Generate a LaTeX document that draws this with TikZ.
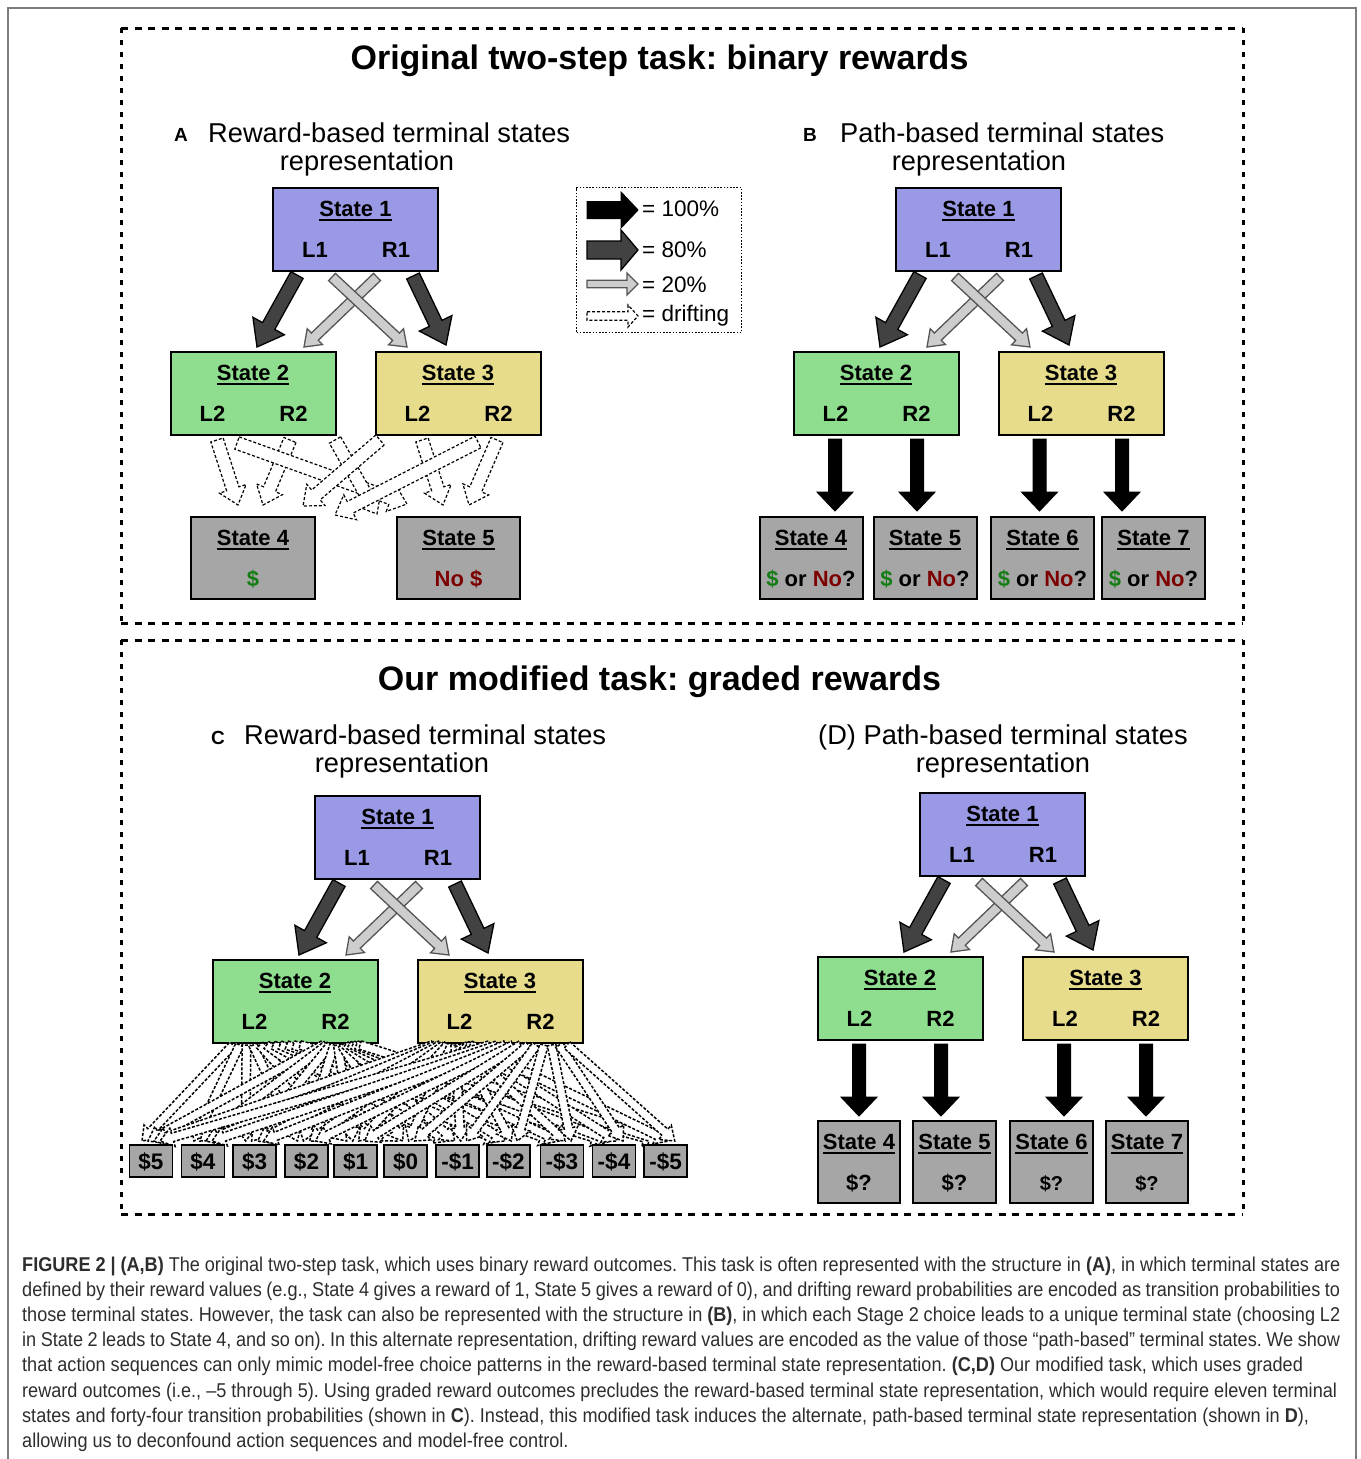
\documentclass[tikz,border=0pt]{standalone}
\usepackage{fontspec}
\setmainfont{Liberation Sans}
\newfontfamily\capfont[FakeStretch=0.905]{Liberation Sans}
\usetikzlibrary{calc}
\frenchspacing

\definecolor{purp}{RGB}{153,153,230}
\definecolor{grn}{RGB}{143,222,143}
\definecolor{yel}{RGB}{230,220,140}
\definecolor{term}{RGB}{166,166,166}
\definecolor{dk}{RGB}{66,66,66}
\definecolor{lt}{RGB}{205,205,205}
\definecolor{ltedge}{RGB}{85,85,85}
\definecolor{money}{RGB}{20,125,20}
\definecolor{nomoney}{RGB}{125,0,0}
\definecolor{captext}{RGB}{45,45,45}
\definecolor{framegray}{RGB}{125,125,125}

\newcommand\fs[1]{\fontsize{#1}{#1}\selectfont}
% bold title with a heavy underline
\newcommand\ulined[1]{\setbox0\hbox{#1}\rlap{\rule[-4.7pt]{\wd0}{1.8pt}}\box0}
% caption line set to the full measure
\newcommand\fullline[1]{\makebox[1318pt][s]{#1}}

% block arrow: style, name, tail, tip, half shaft, half head, head length
\newcommand\barrow[7]{%
  \coordinate (#2-s) at (#3);
  \coordinate (#2-e) at (#4);
  \coordinate (#2-h) at ($(#2-e)!#7pt!(#2-s)$);
  \path[#1] ($(#2-s)!#5pt!90:(#2-e)$) -- ($(#2-h)!#5pt!-90:(#2-s)$)
    -- ($(#2-h)!#6pt!-90:(#2-s)$) -- (#2-e) -- ($(#2-h)!#6pt!90:(#2-s)$)
    -- ($(#2-h)!#5pt!90:(#2-s)$) -- ($(#2-s)!#5pt!-90:(#2-e)$) -- cycle;
}

% choice state: name, x centre, y top, fill, title, left, right
\newcommand\choicebox[7]{%
  \node[sbox, fill=#4, anchor=north] (#1) at (#2,#3) {};
  \node[stxt] (#1-t) at ([yshift=-29pt]#1.north) {\ulined{#5}};
  \node[stxt] (#1-l) at ([xshift=-40.5pt,yshift=-70pt]#1.north) {#6};
  \node[stxt] (#1-r) at ([xshift=40.5pt,yshift=-70pt]#1.north) {#7};
}
% terminal state: name, x centre, y top, width, title, value
\newcommand\termbox[6]{%
  \node[tbox, minimum width=#4pt, anchor=north] (#1) at (#2,#3) {};
  \node[stxt] (#1-t) at ([yshift=-29pt]#1.north) {\ulined{#5}};
  \node[stxt] (#1-v) at ([yshift=-70pt]#1.north) {#6};
}
\newcommand\win{\textcolor{money}{\$}}
\newcommand\lose{\textcolor{nomoney}{No}}

\tikzset{
  sbox/.style={draw=black, line width=2pt, minimum width=165pt, minimum height=83pt, inner sep=0pt},
  tbox/.style={draw=black, line width=2pt, fill=term, minimum height=82pt, inner sep=0pt},
  cbox/.style={draw=black, line width=1.6pt, fill=term, minimum width=43pt, minimum height=32pt, inner sep=0pt},
  ctxt/.style={anchor=base, inner sep=0pt, font=\bfseries\fs{22.5}},
  stxt/.style={anchor=base, inner sep=0pt, font=\bfseries\fs{22}},
  title/.style={anchor=base, inner sep=0pt, font=\bfseries\fs{34}},
  hdr/.style={anchor=base west, inner sep=0pt, font=\fs{27.25}},
  hdrc/.style={anchor=base, inner sep=0pt, font=\fs{27.25}},
  tag/.style={anchor=base, inner sep=0pt, font=\bfseries\fs{19}},
  legtxt/.style={anchor=west, inner sep=0pt, font=\fs{22.5}},
  capline/.style={anchor=base west, inner sep=0pt, text=captext, font=\capfont\fs{20}},
  full/.style={fill=black, draw=black, line width=1pt},
  most/.style={fill=dk, draw=black, line width=1.3pt, line join=miter},
  rare/.style={fill=lt, draw=ltedge, line width=1.3pt},
  drift/.style={fill=white, draw=black, line width=1.2pt, dash pattern=on 3pt off 2pt},
  drifts/.style={fill=white, draw=black, line width=1.5pt, dash pattern=on 3pt off 1.7pt},
  hedge/.style={line width=3pt, dash pattern=on 7pt off 6.5pt},
  vedge/.style={line width=3pt, dash pattern=on 4.5pt off 7.5pt},
}

\begin{document}
\begin{tikzpicture}[x=1pt, y=-1pt]
\useasboundingbox (0,0) rectangle (1360,1459);

% outer figure frame
\draw[framegray, line width=1.5pt] (8,1459) -- (8,8) -- (1356,8) -- (1356,1459);

% dashed panel frames
\draw[hedge] (121,28) -- (1243,28);
\draw[hedge] (121,623) -- (1243,623);
\draw[vedge] (121,28) -- (121,623);
\draw[vedge] (1243,28) -- (1243,623);
\draw[hedge] (121,640) -- (1243,640);
\draw[hedge] (121,1214) -- (1243,1214);
\draw[vedge] (121,640) -- (121,1214);
\draw[vedge] (1243,640) -- (1243,1214);

% titles
\node[title] (t1) at (659.5,69) {Original two-step task: binary rewards};
\node[title] (t2) at (659.5,690) {Our modified task: graded rewards};

% panel headings
\node[tag] (tagA) at (181,141) {A};
\node[hdr] (hA1) at (208,142) {Reward-based terminal states};
\node[hdrc] (hA2) at (367,170) {representation};
\node[tag] (tagB) at (810,141) {B};
\node[hdr] (hB1) at (840,142) {Path-based terminal states};
\node[hdrc] (hB2) at (979,170) {representation};
\node[tag] (tagC) at (218,744) {C};
\node[hdr] (hC1) at (244,744) {Reward-based terminal states};
\node[hdrc] (hC2) at (402,772) {representation};
\node[hdr] (hD1) at (818,744) {(D) Path-based terminal states};
\node[hdrc] (hD2) at (1003,772) {representation};

% ---------- panel A ----------
\choicebox{a1}{355.5}{187}{purp}{State 1}{L1}{R1}
\choicebox{a2}{253}{351}{grn}{State 2}{L2}{R2}
\choicebox{a3}{458}{351}{yel}{State 3}{L2}{R2}
\termbox{a4}{253}{516}{124}{State 4}{\win}
\termbox{a5}{458.5}{516}{123}{State 5}{\textcolor{nomoney}{No \$}}
\barrow{most}{aL}{297,275}{257,347}{7}{18}{24}
\barrow{most}{aR}{413,276}{446,345}{7}{18}{24}
\barrow{rare}{aX}{377,277}{304,347}{5}{11}{15}
\barrow{rare}{aY}{332,277}{407,347}{5}{11}{15}
\barrow{drift}{ad1}{217,440}{238,505}{6.5}{14}{17}
\barrow{drift}{ad2}{290,440}{263,505}{6.5}{14}{17}
\barrow{drift}{ad3}{237,443}{407,504}{6.5}{14}{17}
\barrow{drift}{ad4}{335,440}{377,514}{6.5}{14}{17}
\barrow{drift}{ad5}{380,440}{303,506}{6.5}{14}{17}
\barrow{drift}{ad6}{422,440}{443,505}{6.5}{14}{17}
\barrow{drift}{ad7}{478,442}{335,515}{6.5}{14}{17}
\barrow{drift}{ad8}{497,440}{469,505}{6.5}{14}{17}

% legend
\node[draw=black, line width=1.3pt, dash pattern=on 1.6pt off 1.6pt, minimum width=165pt,
      minimum height=145pt, inner sep=0pt, anchor=north west] (leg) at (576,187) {};
\barrow{full}{l1}{587,210}{638,210}{8.5}{18}{17}
\barrow{most}{l2}{587,250}{638,250}{9}{20}{17}
\barrow{rare}{l3}{587,284}{638,284}{3.7}{11}{11}
\barrow{drift}{l4}{587,316}{638,316}{4.2}{11}{10}
\node[legtxt] (lt1) at (642,209) {= 100\%};
\node[legtxt] (lt2) at (642,250) {= 80\%};
\node[legtxt] (lt3) at (642,285) {= 20\%};
\node[legtxt] (lt4) at (642,316) {= drifting};

% ---------- panel B ----------
\choicebox{b1}{978.5}{187}{purp}{State 1}{L1}{R1}
\choicebox{b2}{876}{351}{grn}{State 2}{L2}{R2}
\choicebox{b3}{1081}{351}{yel}{State 3}{L2}{R2}
\termbox{b4}{811}{516}{103}{State 4}{\win{} or \lose?}
\termbox{b5}{925}{516}{103}{State 5}{\win{} or \lose?}
\termbox{b6}{1042.5}{516}{103}{State 6}{\win{} or \lose?}
\termbox{b7}{1153.5}{516}{103}{State 7}{\win{} or \lose?}
\barrow{most}{bL}{920,275}{880,347}{7}{18}{24}
\barrow{most}{bR}{1036,276}{1069,345}{7}{18}{24}
\barrow{rare}{bX}{1000,277}{927,347}{5}{11}{15}
\barrow{rare}{bY}{955,277}{1030,347}{5}{11}{15}
\barrow{full}{bd4}{835,439}{835,511}{6.5}{18}{19}
\barrow{full}{bd5}{917,439}{917,511}{6.5}{18}{19}
\barrow{full}{bd6}{1039.5,439}{1039.5,511}{6.5}{18}{19}
\barrow{full}{bd7}{1122,439}{1122,511}{6.5}{18}{19}

% ---------- panel C ----------
\choicebox{c1}{397.5}{795}{purp}{State 1}{L1}{R1}
\choicebox{c2}{295}{959}{grn}{State 2}{L2}{R2}
\choicebox{c3}{500}{959}{yel}{State 3}{L2}{R2}
\barrow{most}{cL}{339,883}{299,955}{7}{18}{24}
\barrow{most}{cR}{455,884}{488,953}{7}{18}{24}
\barrow{rare}{cX}{419,885}{346,955}{5}{11}{15}
\barrow{rare}{cY}{374,885}{449,955}{5}{11}{15}
% 4 choices x 11 outcomes, each with its own drifting transition
\foreach \b/\st [count=\i] in {233/6.7,323/3.7,433/3.7,490/7.7} {
  \foreach \t [count=\j] in {151,203,254.7,306.5,355.7,405.7,457.7,508.3,562,614,665.7} {
    \pgfmathsetmacro\tx{\t+(\i-2.5)*6}
    \pgfmathsetmacro\sx{\b+(\j-1)*\st}
    \barrow{drifts}{cf\i-\j}{\sx,1045}{\tx,1141}{4.3}{9.5}{13}
  }
}
\foreach \t/\v [count=\j] in {151/\$5,203/\$4,254.7/\$3,306.5/\$2,355.7/\$1,405.7/\$0,
    457.7/-\$1,508.3/-\$2,562/-\$3,614/-\$4,665.7/-\$5} {
  \node[cbox] (cv\j) at (\t,1161) {};
  \node[ctxt] (cv\j-t) at ([yshift=-8pt]cv\j.center) {\v};
}

% ---------- panel D ----------
\choicebox{d1}{1002.5}{792}{purp}{State 1}{L1}{R1}
\choicebox{d2}{900}{956}{grn}{State 2}{L2}{R2}
\choicebox{d3}{1105.5}{956}{yel}{State 3}{L2}{R2}
\termbox{d4}{859}{1120}{82}{State 4}{\$?}
\termbox{d5}{954.5}{1120}{83}{State 5}{\$?}
\termbox{d6}{1051.5}{1120}{83}{State 6}{\fs{20}\$?}
\termbox{d7}{1147}{1120}{82}{State 7}{\fs{20}\$?}
\barrow{most}{dL}{944,880}{904,952}{7}{18}{24}
\barrow{most}{dR}{1060,881}{1093,950}{7}{18}{24}
\barrow{rare}{dX}{1024,882}{951,952}{5}{11}{15}
\barrow{rare}{dY}{979,882}{1054,952}{5}{11}{15}
\barrow{full}{dd4}{859,1044}{859,1116}{6.5}{18}{19}
\barrow{full}{dd5}{941,1044}{941,1116}{6.5}{18}{19}
\barrow{full}{dd6}{1064,1044}{1064,1116}{6.5}{18}{19}
\barrow{full}{dd7}{1146,1044}{1146,1116}{6.5}{18}{19}

% ---------- caption ----------
\node[capline] (cap1) at (22,1271) {\fullline{\textbf{FIGURE 2 | (A,B)} The original two-step task, which uses binary reward outcomes. This task is often represented with the structure in \textbf{(A)}, in which terminal states are}};
\node[capline] (cap2) at (22,1296.2) {\fullline{defined by their reward values (e.g., State 4 gives a reward of 1, State 5 gives a reward of 0), and drifting reward probabilities are encoded as transition probabilities to}};
\node[capline] (cap3) at (22,1321.4) {\fullline{those terminal states. However, the task can also be represented with the structure in \textbf{(B)}, in which each Stage 2 choice leads to a unique terminal state (choosing L2}};
\node[capline] (cap4) at (22,1346.6) {\fullline{in State 2 leads to State 4, and so on). In this alternate representation, drifting reward values are encoded as the value of those “path-based” terminal states. We show}};
\node[capline] (cap5) at (22,1371.8) {that action sequences can only mimic model-free choice patterns in the reward-based terminal state representation. \textbf{(C,D)} Our modified task, which uses graded};
\node[capline] (cap6) at (22,1397) {reward outcomes (i.e., –5 through 5). Using graded reward outcomes precludes the reward-based terminal state representation, which would require eleven terminal};
\node[capline] (cap7) at (22,1422.2) {states and forty-four transition probabilities (shown in \textbf{C}). Instead, this modified task induces the alternate, path-based terminal state representation (shown in \textbf{D}),};
\node[capline] (cap8) at (22,1447.4) {allowing us to deconfound action sequences and model-free control.};
\end{tikzpicture}
\end{document}
